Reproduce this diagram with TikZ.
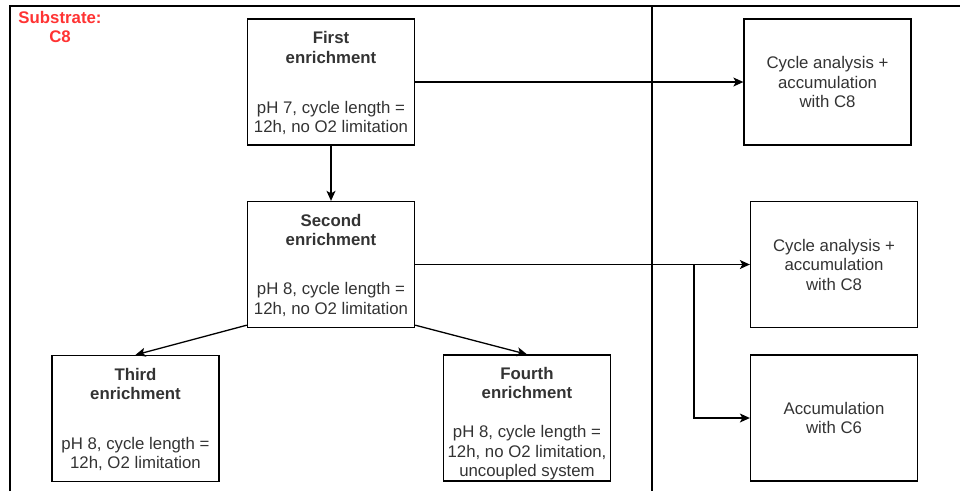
\documentclass[tikz,border=0pt]{standalone}
\usepackage{fontspec}
\setmainfont{Liberation Sans}
\usetikzlibrary{arrows.meta}
\definecolor{txt}{HTML}{333333}
\definecolor{subst}{HTML}{FF3333}
\tikzset{
    box/.style = {draw, line width=1.3pt, minimum width=167pt, minimum height=126pt, inner sep=0pt},
    lbl/.style = {text=txt, align=center, inner sep=0pt, font=\fontsize{16.8}{19.5}\selectfont},
    arr/.style = {line width=1.3pt, -{Stealth[length=10pt,width=9pt,inset=2.5pt]}}
}
\begin{document}
\begin{tikzpicture}[x=1pt,y=-1pt]
            \useasboundingbox (0,0) rectangle (960,491);
            \draw [line width=1.3pt] (10,491) -- (10,6) -- (960,6);
            \draw [line width=1.3pt] (652,6) -- (652,491);
            \node [lbl,text=subst,font=\fontsize{16.8}{19.5}\selectfont\bfseries] (substrate) at (60,27) {Substrate:\\C8};
            % enrichments
            \node [box] (first) at (331,82) {};
            \node [lbl,yshift=34.5pt] at (first.center) {\textbf{First}\\\textbf{enrichment}};
            \node [lbl,yshift=-36pt] at (first.center) {pH 7, cycle length =\\12h, no O2 limitation};
            \node [box] (second) at (331,264.5) {};
            \node [lbl,yshift=34.5pt] at (second.center) {\textbf{Second}\\\textbf{enrichment}};
            \node [lbl,yshift=-35pt] at (second.center) {pH 8, cycle length =\\12h, no O2 limitation};
            \node [box] (third) at (135.5,418.5) {};
            \node [lbl,yshift=34.5pt] at (third.center) {\textbf{Third}\\\textbf{enrichment}};
            \node [lbl,yshift=-35.5pt] at (third.center) {pH 8, cycle length =\\12h, O2 limitation};
            \node [box] (fourth) at (527,418) {};
            \node [lbl,yshift=35pt] at (fourth.center) {\textbf{Fourth}\\\textbf{enrichment}};
            \node [lbl,yshift=-35pt] at (fourth.center) {pH 8, cycle length =\\12h, no O2 limitation,\\uncoupled system};
            % analyses
            \node [box,lbl,inner sep=0pt] (cycA) at (827.5,82) {Cycle analysis +\\accumulation\\with C8};
            \node [box,lbl,inner sep=0pt] (cycB) at (834,264.5) {Cycle analysis +\\accumulation\\with C8};
            \node [box,lbl,inner sep=0pt] (accu) at (834,418) {Accumulation\\with C6};
            \coordinate (fork) at (694,264.5);
            \draw [arr] (first) -- (second);
            \draw [arr] (first.east) -- (cycA.west);
            \draw [arr] (second.east) -- (cycB.west);
            \draw [arr] (fork) |- (accu.west);
            \draw [arr] ([yshift=3pt]second.south west) -- (third.north);
            \draw [arr] ([yshift=3pt]second.south east) -- (fourth.north);
\end{tikzpicture}
\end{document}
